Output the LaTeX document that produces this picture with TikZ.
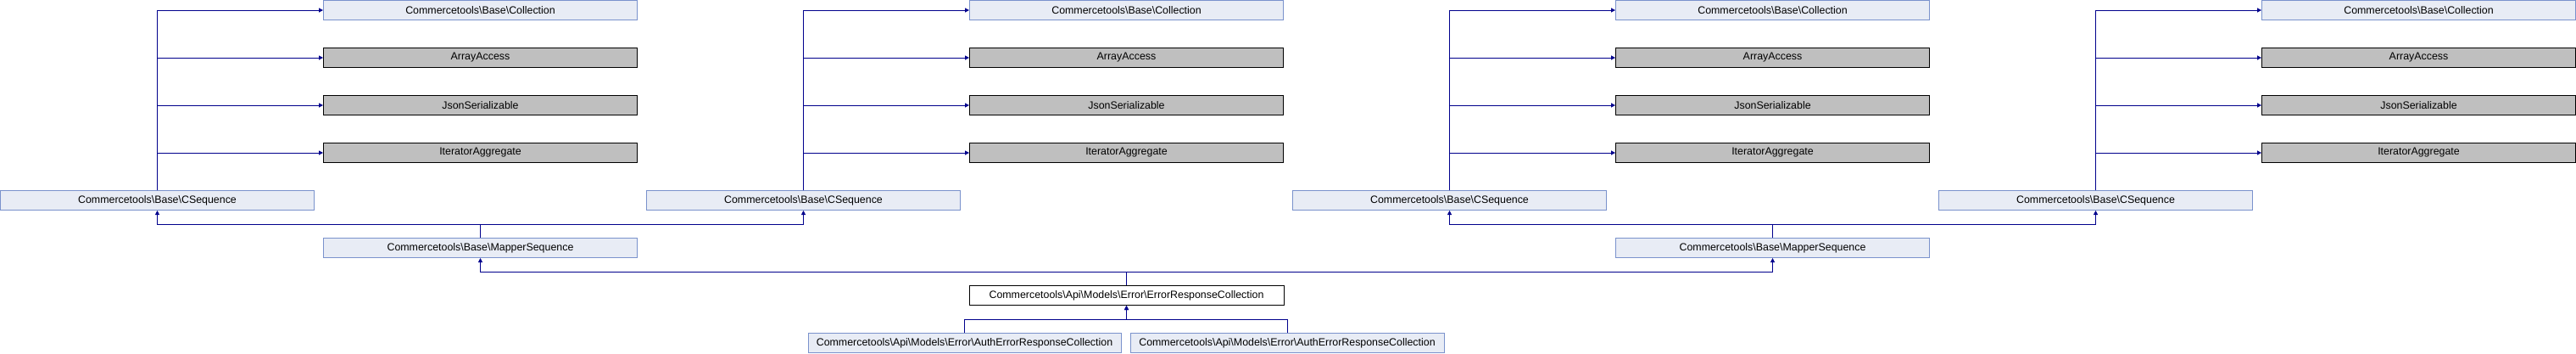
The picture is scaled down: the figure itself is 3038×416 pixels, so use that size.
\documentclass[tikz,border=0pt]{standalone}
\usepackage{fontspec}
\setmainfont{Liberation Sans}
\usetikzlibrary{arrows.meta}
\definecolor{lightfill}{RGB}{232,236,245}
\definecolor{lightborder}{RGB}{122,146,204}
\definecolor{greyfill}{RGB}{191,191,191}
\definecolor{edgecol}{RGB}{0,0,140}
\newcommand{\BSL}{\textbackslash{}}
\tikzset{
  cls/.style={draw=lightborder, fill=lightfill, line width=1pt, minimum height=23pt, minimum width=370pt, inner sep=0pt, font=\fontsize{12.4}{14}\selectfont},
  ext/.style={cls, draw=black, fill=greyfill},
  cur/.style={cls, draw=black, fill=white},
  edge/.style={draw=edgecol, line width=1pt, -{Triangle[length=5pt,width=5pt]}},
}
\begin{document}
\begin{tikzpicture}[x=1pt,y=-1pt]
\useasboundingbox (0,0) rectangle (3038,416);
\foreach \i in {1,2,3,4}{
  \pgfmathsetmacro{\dx}{762*(\i-1)}
  \node[cls] (coll\i) at (566.5+\dx,12) {Commercetools\BSL Base\BSL Collection};
  \node[ext] (aa\i) at (566.5+\dx,68) {ArrayAccess};
  \node[ext] (js\i) at (566.5+\dx,124) {JsonSerializable};
  \node[ext] (it\i) at (566.5+\dx,180) {IteratorAggregate};
  \node[cls] (cs\i) at (185.5+\dx,236) {Commercetools\BSL Base\BSL CSequence};
  \draw[edge] (cs\i.north) |- (coll\i.west);
  \draw[edge] (cs\i.north) |- (aa\i.west);
  \draw[edge] (cs\i.north) |- (js\i.west);
  \draw[edge] (cs\i.north) |- (it\i.west);
}
\node[cls] (m1) at (566.5,292) {Commercetools\BSL Base\BSL MapperSequence};
\node[cls] (m2) at (2090.5,292) {Commercetools\BSL Base\BSL MapperSequence};
\node[cur, minimum width=371pt] (erc) at (1328.5,348) {Commercetools\BSL Api\BSL Models\BSL Error\BSL ErrorResponseCollection};
\node[cls, minimum width=369pt] (a1) at (1137.5,404) {Commercetools\BSL Api\BSL Models\BSL Error\BSL AuthErrorResponseCollection};
\node[cls] (a2) at (1518,404) {Commercetools\BSL Api\BSL Models\BSL Error\BSL AuthErrorResponseCollection};
\draw[edge] (m1.north) -- ++(0,-16) -| (cs1.south);
\draw[edge] (m1.north) -- ++(0,-16) -| (cs2.south);
\draw[edge] (m2.north) -- ++(0,-16) -| (cs3.south);
\draw[edge] (m2.north) -- ++(0,-16) -| (cs4.south);
\draw[edge] (erc.north) -- ++(0,-16) -| (m1.south);
\draw[edge] (erc.north) -- ++(0,-16) -| (m2.south);
\draw[edge] (a1.north) -- ++(0,-16) -| (erc.south);
\draw[edge] (a2.north) -- ++(0,-16) -| (erc.south);
\end{tikzpicture}
\end{document}
